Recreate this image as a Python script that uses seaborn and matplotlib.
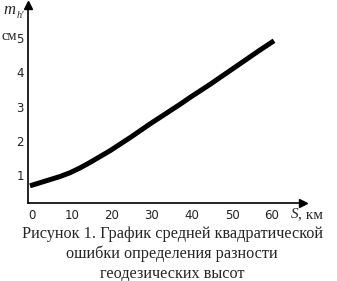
import matplotlib
matplotlib.use("Agg")
import matplotlib.pyplot as plt
import matplotlib.transforms as mtransforms
import seaborn as sns
import pandas as pd

# Data
S_km = [0, 2.5, 5, 7.5, 10, 12.5, 15, 17.5, 20, 22.5, 25, 27.5, 30, 32.5, 35,
        37.5, 40, 42.5, 45, 47.5, 50, 52.5, 55, 57.5, 61]
m_h = [0.70, 0.79, 0.88, 0.97, 1.08, 1.22, 1.38, 1.55, 1.72, 1.91, 2.10, 2.30,
       2.50, 2.69, 2.88, 3.07, 3.27, 3.46, 3.65, 3.85, 4.05, 4.25, 4.45, 4.65, 4.92]
x_ticks = [0, 10, 20, 30, 40, 50, 60]
y_ticks = [1, 2, 3, 4, 5]
caption = "Рисунок 1. График средней квадратической\nошибки определения разности\nгеодезических высот"

sns.set_style("white")
plt.rcParams["font.family"] = ["DejaVu Sans"]

W, H = 337, 281
fig = plt.figure(figsize=(W / 100, H / 100), dpi=100)
left, right, bottom, top = 28, 303, 203, 5
ax = fig.add_axes([left / W, 1 - bottom / H, (right - left) / W, (bottom - top) / H])

df = pd.DataFrame({"S": S_km, "m": m_h})
sns.lineplot(data=df, x="S", y="m", ax=ax, color="black", linewidth=3.6,
             solid_capstyle="butt", solid_joinstyle="round", clip_on=False)

ax.set_xlim(-0.5, 68.25)
ax.set_ylim(0.2, 5.96)
ax.set_xticks(x_ticks)
ax.set_yticks(y_ticks)
ax.set_xticklabels([str(t) for t in x_ticks])
ax.set_yticklabels([str(t) for t in y_ticks])
ax.tick_params(axis="both", length=0, labelsize=8.5, colors="#222222")
ax.tick_params(axis="x", pad=4)
ax.tick_params(axis="y", pad=3)
off = mtransforms.ScaledTranslation(2 / 100, 0, fig.dpi_scale_trans)
for lab in ax.get_xticklabels():
    lab.set_transform(lab.get_transform() + off)
ax.set_xlabel("")
ax.set_ylabel("")
for s in ["top", "right"]:
    ax.spines[s].set_visible(False)
for s in ["left", "bottom"]:
    ax.spines[s].set_color("black")
    ax.spines[s].set_linewidth(1.2)
ax.grid(False)

# arrow heads
ax.plot([0], [1], marker="^", markersize=5.5, color="black", transform=ax.transAxes, clip_on=False)
ax.plot([1], [0], marker=">", markersize=5.5, color="black", transform=ax.transAxes, clip_on=False)

# axis labels
fig.text(9 / W, 1 - 10 / H, "m", fontsize=12, family="Liberation Serif",
         style="italic", ha="center", va="center")
fig.text(20.5 / W, 1 - 15.5 / H, "h'", fontsize=7.5, family="Liberation Serif",
         style="italic", ha="center", va="center")
fig.text(1 / W, 1 - 36 / H, "см", fontsize=10.5, family="Liberation Serif",
         ha="left", va="center")
fig.text(291 / W, 1 - 214 / H, "S", fontsize=11, family="Liberation Serif",
         style="italic", ha="left", va="center")
fig.text(298 / W, 1 - 215 / H, ", км", fontsize=11, family="Liberation Serif",
         ha="left", va="center")

fig.text(172 / W, 1 - 254 / H, caption, fontsize=11.7, family="Liberation Serif",
         ha="center", va="center", linespacing=1.27)

fig.savefig("out.png", dpi=100, facecolor="white")
